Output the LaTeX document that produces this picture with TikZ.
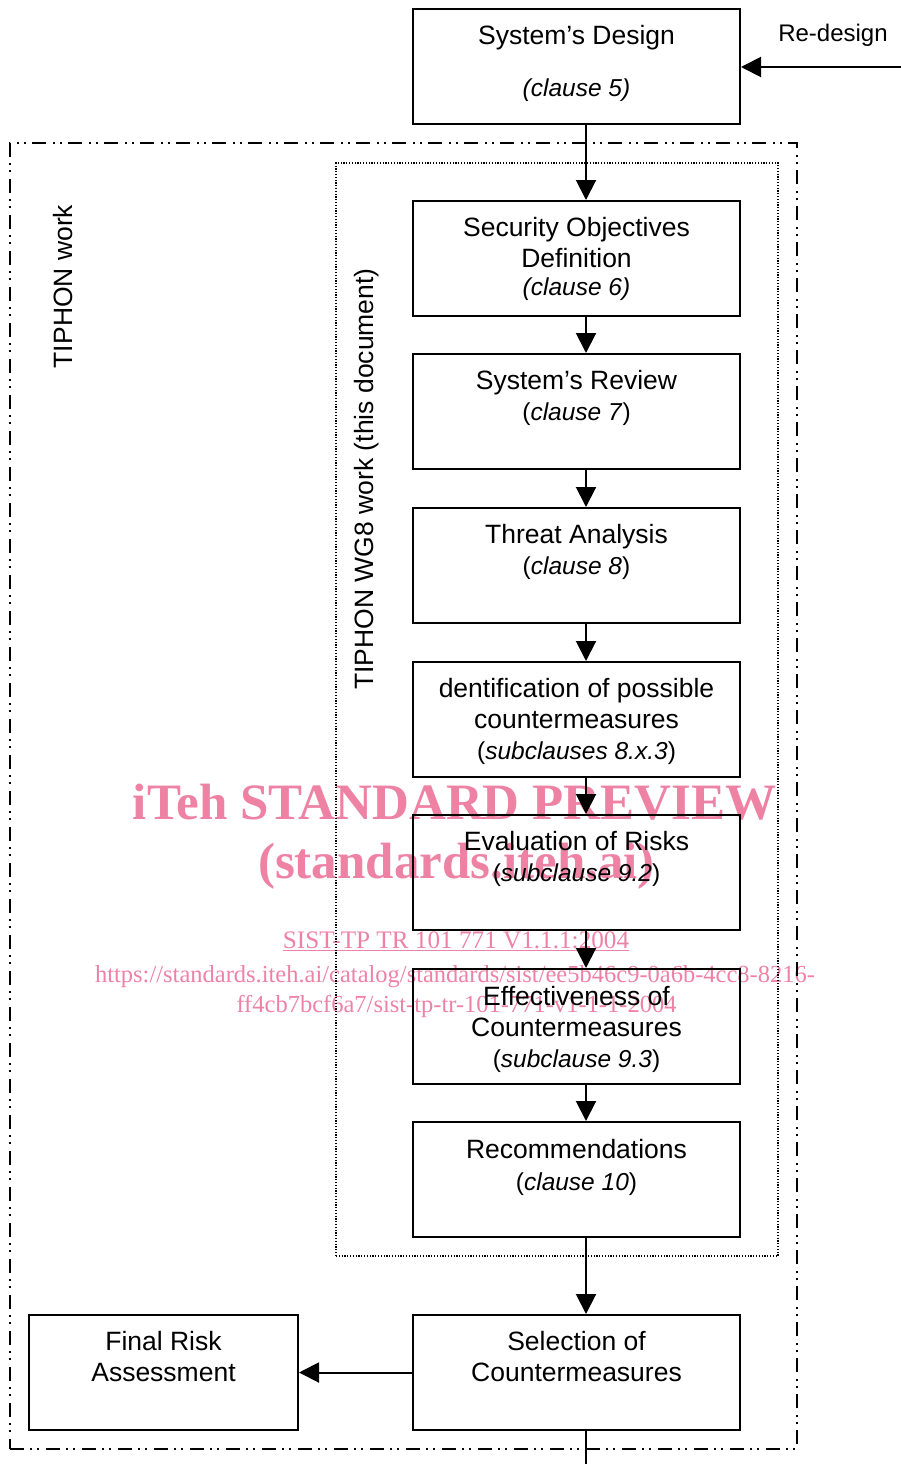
\documentclass[tikz,border=0pt]{standalone}
\usepackage{fontspec}
\setmainfont{Liberation Sans}
\newfontfamily\wmfont{Liberation Serif}
\usetikzlibrary{arrows.meta}
\definecolor{wmpink}{RGB}{238,130,165}
\newcommand{\clauseref}[1]{{\fontsize{24.5}{31}\selectfont #1}}

\begin{document}
\begin{tikzpicture}[x=1pt,y=-1pt,
  stage/.style={draw, line width=2pt, minimum width=327pt, minimum height=115pt, inner sep=0pt},
  lbl/.style={anchor=north, align=center, inner sep=0pt, font=\fontsize{26.5}{31}\selectfont},
  flow/.style={line width=2pt, -{Triangle[length=20pt,width=20pt]}},
  groupouter/.style={draw, line width=1.8pt, inner sep=0pt,
    dash pattern=on 14pt off 6pt on 2pt off 5pt on 2pt off 7pt},
  groupinner/.style={draw, line width=1.2pt, inner sep=0pt, dash pattern=on 1.2pt off 1.6pt},
  sidelabel/.style={rotate=90, anchor=base, inner sep=0pt, font=\fontsize{26.5}{31}\selectfont},
  wm/.style={text=wmpink, inner sep=0pt, anchor=base}
]
\useasboundingbox (0,0) rectangle (901,1464);

% grouping frames
\node[groupouter, minimum width=787pt, minimum height=1306pt] (tiphon) at (403.5,796) {};
\node[groupinner, minimum width=442pt, minimum height=1093pt] (wg8) at (557,709.5) {};
\node[sidelabel] (tiphonlbl) at (72,286.5) {TIPHON work};
\node[sidelabel] (wg8lbl) at (373.3,479) {TIPHON WG8 work (this document)};

% process stages
\node[stage] (s5)  at (576.5,66.5)   {};
\node[stage] (s6)  at (576.5,258.5)  {};
\node[stage] (s7)  at (576.5,411.5)  {};
\node[stage] (s8)  at (576.5,565.5)  {};
\node[stage] (s83) at (576.5,719.5)  {};
\node[stage] (s92) at (576.5,872.5)  {};
\node[stage] (s93) at (576.5,1026.5) {};
\node[stage] (s10) at (576.5,1179.5) {};
\node[stage] (sel) at (576.5,1372.5) {};
\node[stage, minimum width=269pt] (final) at (163.5,1372.5) {};

% stage texts
\node[lbl] (t5)  at ([yshift=-15pt]s5.north)  {\strut System’s Design\\[21pt]\clauseref{\textit{(clause 5)}}};
\node[lbl] (t6)  at ([yshift=-15pt]s6.north)  {\strut Security Objectives\\Definition\\[-3pt]\clauseref{\textit{(clause 6)}}};
\node[lbl] (t7)  at ([yshift=-15pt]s7.north)  {\strut System’s Review\\\clauseref{(\textit{clause 7})}};
\node[lbl] (t8)  at ([yshift=-15pt]s8.north)  {\strut Threat Analysis\\\clauseref{(\textit{clause 8})}};
\node[lbl] (t83) at ([yshift=-15pt]s83.north) {\strut dentification of possible\\countermeasures\\\clauseref{(\textit{subclauses 8.x.3})}};
\node[lbl] (t92) at ([yshift=-15pt]s92.north) {\strut Evaluation of Risks\\\clauseref{(\textit{subclause 9.2})}};
\node[lbl] (t93) at ([yshift=-16pt]s93.north) {\strut Effectiveness of\\Countermeasures\\\clauseref{(\textit{subclause 9.3})}};
\node[lbl] (t10) at ([yshift=-16pt]s10.north) {\strut Recommendations\\[1pt]\clauseref{(\textit{clause 10})}};
\node[lbl] (tsel) at ([yshift=-15pt]sel.north) {\strut Selection of\\Countermeasures};
\node[lbl] (tfin) at ([yshift=-15pt]final.north) {\strut Final Risk\\Assessment};

% re-design feedback
\coordinate (rdin) at (901,67);
\node[inner sep=0pt, anchor=base, font=\fontsize{24}{28}\selectfont] (rdlbl) at (833,41.5) {Re-design};
\draw[flow] (rdin) -- (s5.east |- rdin);

% flow connectors
\draw[flow] ([xshift=9.5pt]s5.south)  -- ([xshift=9.5pt]s6.north);
\draw[flow] ([xshift=9.5pt]s6.south)  -- ([xshift=9.5pt]s7.north);
\draw[flow] ([xshift=9.5pt]s7.south)  -- ([xshift=9.5pt]s8.north);
\draw[flow] ([xshift=9.5pt]s8.south)  -- ([xshift=9.5pt]s83.north);
\draw[flow] ([xshift=9.5pt]s83.south) -- ([xshift=9.5pt]s92.north);
\draw[flow] ([xshift=9.5pt]s92.south) -- ([xshift=9.5pt]s93.north);
\draw[flow] ([xshift=9.5pt]s93.south) -- ([xshift=9.5pt]s10.north);
\draw[flow] ([xshift=9.5pt]s10.south) -- ([xshift=9.5pt]sel.north);
\draw[flow] (sel.west) -- (final.east);
\coordinate (out) at (586,1464);
\draw[line width=2pt] ([xshift=9.5pt]sel.south) -- (out);

% preview stamp
\begin{scope}[blend mode=multiply]
\node[wm, font=\wmfont\bfseries\fontsize{51}{60}\selectfont] (wm1) at (454.5,819) {iTeh STANDARD PREVIEW};
\node[wm, font=\wmfont\bfseries\fontsize{51}{60}\selectfont] (wm2) at (456.5,878) {(standards.iteh.ai)};
\node[wm, font=\wmfont\fontsize{25.2}{30}\selectfont] (wm3) at (456,948) {\underline{SIST-TP TR 101 771 V1.1.1:2004}};
\node[wm, font=\wmfont\fontsize{24.5}{30}\selectfont] (wm4) at (455,982) {https://standards.iteh.ai/catalog/standards/sist/ee5b46c9-0a6b-4cc8-8216-};
\node[wm, font=\wmfont\fontsize{24.5}{30}\selectfont] (wm5) at (456.5,1012) {ff4cb7bcf6a7/sist-tp-tr-101-771-v1-1-1-2004};
\end{scope}
\end{tikzpicture}
\end{document}
